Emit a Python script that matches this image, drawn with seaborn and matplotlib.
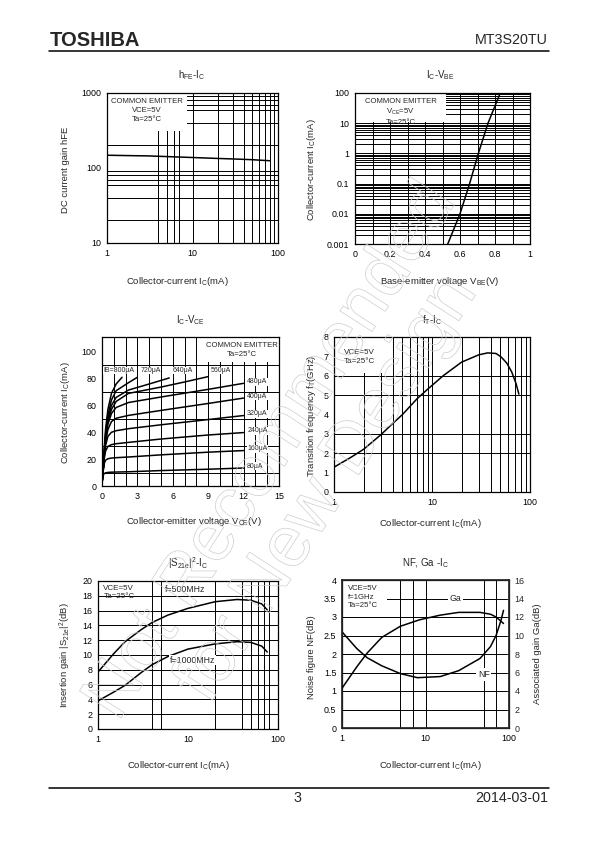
import matplotlib
matplotlib.use("Agg")
import matplotlib.pyplot as plt
import matplotlib.patheffects as pe
from matplotlib.patches import Rectangle
from matplotlib.ticker import NullLocator
import seaborn as sns

# ---- data ----
# hFE - IC
hfe_ic = [1, 2, 3, 5, 10, 20, 30, 50, 80]
hfe_val = [148, 146, 145, 142, 138, 134, 132, 129, 125]

# IC - VBE
vbe_v = [0.53, 0.60, 0.655, 0.705, 0.76, 0.83]
vbe_ic = [0.001, 0.01, 0.1, 1, 10, 100]

# IC - VCE, one curve per base current
ib_names = ["80", "160", "240", "320", "400", "480", "560", "640", "720", "800"]
vce_long = [0.02, 0.1, 0.2, 0.3, 0.5, 0.8, 1.2, 2.25, 5, 9, 12]
ic_80 = [3, 8, 9.3, 9.8, 10.1, 10.3, 10.4, 10.6, 11.5, 12.5, 13.4]
ic_160 = [3.5, 11, 17, 19.2, 20.3, 20.8, 21.1, 21.6, 23.2, 25.2, 26.4]
ic_240 = [4, 12, 21, 26, 29.5, 30.8, 31.5, 32.5, 35, 38, 39.8]
ic_320 = [4, 12, 23, 30, 37, 40, 41.2, 42.7, 45.6, 49.5, 52.5]
ic_400 = [4, 12, 24, 33, 42, 48, 50.5, 52.6, 56.3, 61.5, 65.5]
ic_480 = [4, 12, 25, 35, 46, 54, 58.5, 62.2, 66.3, 72, 76.5]
vce_560 = [0.02, 0.1, 0.2, 0.3, 0.5, 0.8, 1.2, 2.25, 5, 7, 9]
ic_560 = [4, 12, 25, 36, 48, 57, 63, 69, 73.7, 77.5, 81.5]
vce_640 = [0.02, 0.1, 0.2, 0.3, 0.5, 0.8, 1.2, 2.25, 4, 5.7]
ic_640 = [4, 12, 26, 37, 50, 60, 66, 71.5, 76, 80.5]
vce_720 = [0.02, 0.1, 0.2, 0.3, 0.5, 0.8, 1.2, 2.25, 3.0]
ic_720 = [4, 13, 27, 39, 53, 64, 71, 77, 81]
vce_800 = [0.02, 0.1, 0.2, 0.3, 0.5, 0.8, 1.2, 1.7]
ic_800 = [4, 14, 29, 42, 57, 69, 76, 81]

# fT - IC
ft_ic = [1, 1.5, 2, 3, 4, 5, 7, 9, 13, 20, 30, 37, 45, 51, 58, 65, 72, 77]
ft_val = [1.28, 1.8, 2.2, 2.95, 3.55, 4.0, 4.8, 5.3, 6.0, 6.7, 7.08, 7.18, 7.15,
          6.96, 6.65, 6.2, 5.6, 5.05]

# |S21e|^2 - IC
s21_ic = [1, 1.5, 2, 3, 4, 6, 10, 20, 35, 50, 66, 76]
s21_500 = [7.7, 10.2, 11.8, 13.4, 14.4, 15.4, 16.3, 17.2, 17.5, 17.4, 16.9, 16.1]
s21_1000 = [3.8, 5.0, 5.9, 7.6, 8.7, 9.8, 10.8, 11.5, 11.8, 11.7, 11.2, 10.4]

# NF, Ga - IC
nf_ic = [1, 1.5, 2, 3, 5, 8, 15, 25, 45, 60, 70, 80, 86]
nf_val = [2.6, 2.15, 1.9, 1.68, 1.47, 1.36, 1.39, 1.55, 1.88, 2.2, 2.5, 2.9, 3.18]
ga_ic = [1, 1.5, 2, 3, 5, 8.5, 15, 25, 45, 60, 70, 86]
ga_val = [4.3, 6.6, 8.1, 9.8, 11.0, 11.7, 12.2, 12.5, 12.5, 12.3, 12.0, 11.3]

# grid lines as printed on each chart
g1_x = [4, 5, 6, 7, 10, 20, 30, 40, 50, 60, 70, 80, 90]
g1_y = [20, 40, 60, 70, 80, 90, 200, 400, 600, 700, 800, 900]
g2_x = [0.1, 0.2, 0.3, 0.4, 0.5, 0.6, 0.7, 0.8, 0.9]
g2_y = [m * 10.0 ** e for e in range(-3, 2) for m in range(1, 10)][1:] + [100]
g3_x = list(range(1, 15))
g3_y = [10, 30, 50, 70, 90]
g4_x = [2, 3, 4, 5, 6, 7, 8, 9, 10, 20, 30, 40, 50, 60, 70, 80, 90]
g4_y = [2, 3, 5, 6]
g5_x = [4, 5, 20, 40, 50, 60, 70, 80]
g5_y = [2, 4, 6, 8, 10, 12, 14, 16, 18]
g6_x = [5, 7, 10, 50, 70]
g6_y = [0.5, 1, 1.5, 2, 2.5, 3, 3.5]

sns.set_theme(style="white")
plt.rcParams["font.family"] = ["Liberation Sans", "DejaVu Sans"]
plt.rcParams["mathtext.fontset"] = "custom"
plt.rcParams["mathtext.rm"] = "Liberation Sans"
plt.rcParams["mathtext.it"] = "Liberation Sans:italic"
plt.rcParams["mathtext.bf"] = "Liberation Sans:bold"

W, H = 595, 842
fig = plt.figure(figsize=(W / 100, H / 100), dpi=100)
fig.patch.set_facecolor("white")


def make_axes(box):
    l, t, r, b = box
    ax = fig.add_axes([l / W, 1 - b / H, (r - l) / W, (b - t) / H])
    ax.set_facecolor("none")
    for s in ax.spines.values():
        s.set_color("black")
        s.set_linewidth(0.9)
    ax.tick_params(direction="in", length=2.5, width=0.6, labelsize=6.4,
                   pad=4, colors="black")
    return ax


def grid(ax, xs, ys):
    for x in xs:
        ax.axvline(x, color="black", lw=0.7, zorder=1)
    for y in ys:
        ax.axhline(y, color="black", lw=0.7, zorder=1)


def curve(ax, xs, ys):
    sns.lineplot(x=xs, y=ys, ax=ax, color="black", lw=1.1,
                 estimator=None, sort=False, zorder=3)


def white_box(ax, x0, y0, x1, y1):
    ax.add_patch(Rectangle((x0, y0), x1 - x0, y1 - y0, transform=ax.transAxes,
                           facecolor="white", edgecolor="none", zorder=2))


def labels(ax, box, title, xlab, ylab, tpos, xpos, ypos):
    l, t, r, b = box
    ax.set_title(title, fontsize=7, pad=0, va="center",
                 y=(b - tpos[1]) / (b - t), x=(tpos[0] - l) / (r - l))
    ax.set_xlabel(xlab, fontsize=6.8, va="center")
    ax.xaxis.set_label_coords((xpos[0] - l) / (r - l), (b - xpos[1]) / (b - t))
    ax.set_ylabel(ylab, fontsize=6.8, va="center")
    ax.yaxis.set_label_coords((ypos[0] - l) / (r - l), (b - ypos[1]) / (b - t))


def fixed_ticks(ax, xt, yt):
    ax.set_xticks(xt, [f"{v:g}" for v in xt])
    ax.set_yticks(yt, [f"{v:g}" for v in yt])
    ax.xaxis.set_minor_locator(NullLocator())
    ax.yaxis.set_minor_locator(NullLocator())


legend_kw = dict(fontsize=5.6, ha="center", va="top", zorder=4, linespacing=1.35)
ic_label = r"Collector-current I$_{\mathrm{C}}$(mA)"

# 1. hFE - IC
box1 = (107, 93, 278, 243)
ax1 = make_axes(box1)
ax1.set_xscale("log")
ax1.set_yscale("log")
ax1.set_xlim(1, 100)
ax1.set_ylim(10, 1000)
grid(ax1, g1_x, g1_y)
white_box(ax1, 0, 0.745, 0.47, 1)
curve(ax1, hfe_ic, hfe_val)
fixed_ticks(ax1, [1, 10, 100], [10, 100, 1000])
ax1.text(0.235, 0.965, "COMMON EMITTER\nVCE=5V\nTa=25°C",
         transform=ax1.transAxes, **legend_kw)
labels(ax1, box1, r"h$_{\mathrm{FE}}$-I$_{\mathrm{C}}$", ic_label,
       "DC current gain hFE", (192, 75), (177, 281), (65, 170))

# 2. IC - VBE
box2 = (355, 93, 530, 244)
ax2 = make_axes(box2)
ax2.set_yscale("log")
ax2.set_xlim(0, 1)
ax2.set_ylim(0.001, 100)
grid(ax2, g2_x, g2_y)
white_box(ax2, 0, 0.81, 0.52, 1)
curve(ax2, vbe_v, vbe_ic)
fixed_ticks(ax2, [0, 0.2, 0.4, 0.6, 0.8, 1], [0.001, 0.01, 0.1, 1, 10, 100])
ax2.text(0.26, 0.97, "COMMON EMITTER\nV$_{\\mathrm{CE}}$=5V\nTa=25°C",
         transform=ax2.transAxes, **legend_kw)
labels(ax2, box2, r"I$_{\mathrm{C}}$-V$_{\mathrm{BE}}$",
       r"Base-emitter voltage V$_{\mathrm{BE}}$(V)", ic_label,
       (440, 75), (440, 281), (312, 170))

# 3. IC - VCE
box3 = (102, 337, 279, 486)
ax3 = make_axes(box3)
ax3.set_xlim(0, 15)
ax3.set_ylim(0, 111)
grid(ax3, g3_x, g3_y)
white_box(ax3, 0.56, 0.83, 1, 1)
curve_v = [vce_long] * 6 + [vce_560, vce_640, vce_720, vce_800]
curve_i = [ic_80, ic_160, ic_240, ic_320, ic_400, ic_480, ic_560, ic_640, ic_720, ic_800]
for vs, cs in zip(curve_v, curve_i):
    curve(ax3, vs, cs)
fixed_ticks(ax3, [0, 3, 6, 9, 12, 15], [0, 20, 40, 60, 80, 100])
ax3.text(0.79, 0.965, "COMMON EMITTER\nTa=25°C", transform=ax3.transAxes,
         **legend_kw)
tag_kw = dict(fontsize=5.0, va="center", zorder=4,
              bbox=dict(facecolor="white", edgecolor="none", pad=0.3))
for name, vs, cs in zip(ib_names[:6], curve_v[:6], curve_i[:6]):
    ax3.text(12.3, cs[-1] + 1.2, f"{name}μA", ha="left", **tag_kw)
for name, vs, cs in zip(ib_names[6:], curve_v[6:], curve_i[6:]):
    txt = "IB=800μA" if name == "800" else f"{name}μA"
    xpos = 0.15 if name == "800" else vs[-1] + 0.25
    ax3.text(xpos, 86, txt, ha="left", **tag_kw)
labels(ax3, box3, r"I$_{\mathrm{C}}$-V$_{\mathrm{CE}}$",
       r"Collector-emitter voltage V$_{\mathrm{CE}}$(V)", ic_label,
       (190, 320), (194, 522), (65, 413))

# 4. fT - IC
box4 = (334, 337, 530, 492)
ax4 = make_axes(box4)
ax4.set_xscale("log")
ax4.set_xlim(1, 100)
ax4.set_ylim(0, 8)
grid(ax4, g4_x, g4_y)
white_box(ax4, 0, 0.765, 0.265, 1)
curve(ax4, ft_ic, ft_val)
fixed_ticks(ax4, [1, 10, 100], list(range(0, 9)))
ax4.text(0.05, 0.92, "VCE=5V\nTa=25°C", transform=ax4.transAxes,
         fontsize=5.8, ha="left", va="top", zorder=4, linespacing=1.35)
labels(ax4, box4, r"f$_{\mathrm{T}}$-I$_{\mathrm{C}}$", ic_label,
       r"Transition frequency f$_{\mathrm{T}}$(GHz)", (432, 320), (430, 523),
       (312, 416))

# 5. |S21e|^2 - IC
box5 = (98, 581, 278, 729)
ax5 = make_axes(box5)
ax5.set_xscale("log")
ax5.set_xlim(1, 100)
ax5.set_ylim(0, 20)
grid(ax5, g5_x, g5_y)
curve(ax5, s21_ic, s21_500)
curve(ax5, s21_ic, s21_1000)
fixed_ticks(ax5, [1, 10, 100], list(range(0, 21, 2)))
ax5.text(0.03, 0.975, "VCE=5V\nTa=25°C", transform=ax5.transAxes,
         fontsize=5.8, ha="left", va="top", zorder=4, linespacing=1.2)
ax5.text(5.6, 18.9, "f=500MHz", fontsize=6.3, ha="left", va="center", zorder=4)
ax5.text(6.3, 9.3, "f=1000MHz", fontsize=6.3, ha="left", va="center", zorder=4,
         bbox=dict(facecolor="white", edgecolor="none", pad=0.5))
labels(ax5, box5, r"|S$_{\mathrm{21e}}$|$^{2}$-I$_{\mathrm{C}}$", ic_label,
       r"Insertion gain |S$_{\mathrm{21e}}$|$^{2}$(dB)", (188, 563), (178, 766),
       (65, 655))

# 6. NF, Ga - IC
box6 = (342, 580, 509, 728)
ax6 = make_axes(box6)
ax6.set_xscale("log")
ax6.set_xlim(1, 100)
ax6.set_ylim(0, 4)
grid(ax6, g6_x, g6_y)
white_box(ax6, 0, 0.8, 0.27, 1)
curve(ax6, nf_ic, nf_val)
fixed_ticks(ax6, [1, 10, 100], [0, 0.5, 1, 1.5, 2, 2.5, 3, 3.5, 4])
ax6b = ax6.twinx()
ax6b.set_ylim(0, 16)
curve(ax6b, ga_ic, ga_val)
ax6b.set_yticks(list(range(0, 17, 2)), [str(v) for v in range(0, 17, 2)])
ax6b.tick_params(direction="in", length=2.5, width=0.6, labelsize=6.4, pad=4)
ax6b.set_ylabel("Associated gain Ga(dB)", fontsize=6.8, va="center")
ax6b.yaxis.set_label_coords((537 - 342) / (509 - 342), 0.5)
ax6.text(0.035, 0.965, "VCE=5V\nf=1GHz\nTa=25°C", transform=ax6.transAxes,
         fontsize=5.6, ha="left", va="top", zorder=4, linespacing=1.3)
ax6.text(23, 3.5, "Ga", fontsize=6.3, ha="center", va="center", zorder=4,
         bbox=dict(facecolor="white", edgecolor="none", pad=1.2))
ax6.text(50, 1.45, "NF", fontsize=6.3, ha="center", va="center", zorder=4,
         bbox=dict(facecolor="white", edgecolor="none", pad=1.2))
labels(ax6, box6, r"NF, Ga -I$_{\mathrm{C}}$", ic_label, "Noise figure NF(dB)",
       (425, 563), (430, 766), (312, 657))

# page header / footer
fig.text(50 / W, 1 - 40 / H, "TOSHIBA", fontsize=14.5, fontweight="heavy",
         ha="left", va="center")
fig.text(548 / W, 1 - 40 / H, "MT3S20TU", fontsize=10.3, ha="right", va="center")
fig.add_artist(plt.Line2D([49 / W, 549 / W], [1 - 51 / H, 1 - 51 / H],
                          color="black", lw=1.1))
fig.add_artist(plt.Line2D([49 / W, 549 / W], [1 - 788 / H, 1 - 788 / H],
                          color="black", lw=1.1))
fig.text(297 / W, 1 - 798 / H, "3", fontsize=10.3, ha="center", va="center")
fig.text(548 / W, 1 - 798 / H, "2014-03-01", fontsize=10.3, ha="right",
         va="center")

# hollow watermark
fig.text(300 / W, 1 - 470 / H, "Not Recommended\nfor New Design", fontsize=52,
         rotation=57, ha="center", va="center", color=(1, 1, 1, 0),
         linespacing=1.0, zorder=10,
         path_effects=[pe.Stroke(linewidth=0.5, foreground="#cdcdcd")])

fig.savefig("out.png", dpi=100, facecolor="white")
